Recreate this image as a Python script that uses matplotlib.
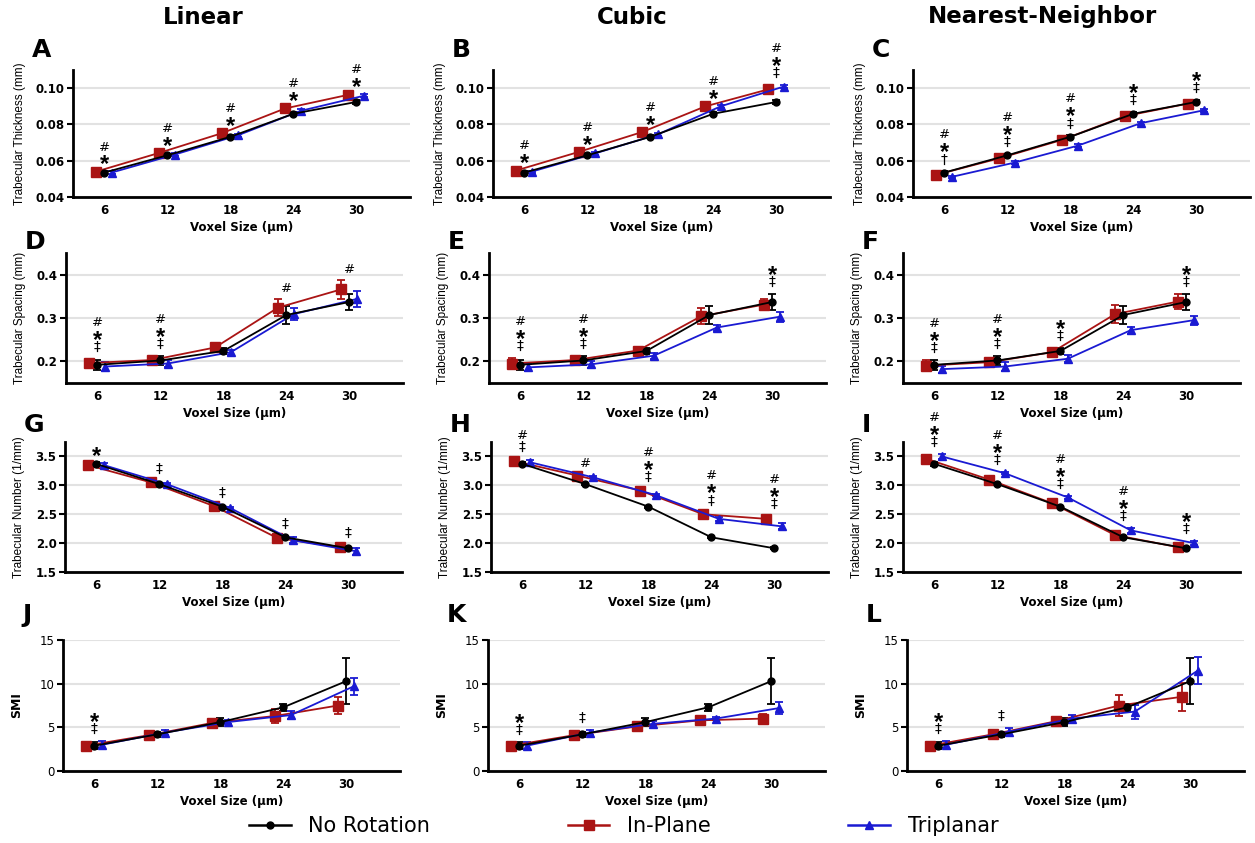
import numpy as np
import matplotlib.pyplot as plt
from matplotlib.lines import Line2D

voxel = [6, 12, 18, 24, 30]
methods = ["Linear", "Cubic", "Nearest-Neighbor"]
letters = ["A", "B", "C", "D", "E", "F", "G", "H", "I", "J", "K", "L"]
series_names = ["No Rotation", "In-Plane", "Triplanar"]

# trabecular thickness (mm); no rotation is the same for every column
th_none = [0.0535, 0.0630, 0.0732, 0.0859, 0.0924]
th_lin_ip = [0.0540, 0.0643, 0.0752, 0.0888, 0.0963]
th_lin_tri = [0.0535, 0.0634, 0.0740, 0.0875, 0.0958]
th_cub_ip = [0.0546, 0.0649, 0.0758, 0.0899, 0.0993]
th_cub_tri = [0.0540, 0.0640, 0.0745, 0.0900, 0.1009]
th_nn_ip = [0.0522, 0.0613, 0.0715, 0.0846, 0.0915]
th_nn_tri = [0.0511, 0.0590, 0.0683, 0.0807, 0.0878]
th_sd = [0.0006, 0.0006, 0.0007, 0.0008, 0.0009]

# trabecular spacing (mm)
sp_none = [0.192, 0.202, 0.224, 0.307, 0.337]
sp_none_sd = [0.012, 0.010, 0.007, 0.020, 0.018]
sp_lin_ip = [0.196, 0.203, 0.232, 0.324, 0.366]
sp_lin_ip_sd = [0.010, 0.010, 0.005, 0.020, 0.021]
sp_lin_tri = [0.188, 0.195, 0.221, 0.309, 0.344]
sp_lin_tri_sd = [0.010, 0.008, 0.006, 0.013, 0.018]
sp_cub_ip = [0.195, 0.203, 0.225, 0.304, 0.331]
sp_cub_ip_sd = [0.012, 0.010, 0.007, 0.018, 0.012]
sp_cub_tri = [0.186, 0.193, 0.213, 0.278, 0.303]
sp_cub_tri_sd = [0.008, 0.008, 0.007, 0.007, 0.012]
sp_nn_ip = [0.190, 0.198, 0.221, 0.309, 0.338]
sp_nn_ip_sd = [0.012, 0.010, 0.006, 0.020, 0.018]
sp_nn_tri = [0.182, 0.188, 0.206, 0.272, 0.295]
sp_nn_tri_sd = [0.008, 0.010, 0.008, 0.008, 0.010]

# trabecular number (1/mm)
n_none = [3.37, 3.02, 2.63, 2.10, 1.91]
n_none_sd = [0.03, 0.02, 0.02, 0.02, 0.02]
n_lin_ip = [3.35, 3.05, 2.64, 2.09, 1.93]
n_lin_ip_sd = [0.02, 0.02, 0.02, 0.03, 0.04]
n_lin_tri = [3.35, 3.02, 2.61, 2.05, 1.86]
n_lin_tri_sd = [0.04, 0.02, 0.02, 0.05, 0.06]
n_cub_ip = [3.42, 3.17, 2.91, 2.50, 2.42]
n_cub_ip_sd = [0.03, 0.02, 0.02, 0.03, 0.05]
n_cub_tri = [3.40, 3.14, 2.83, 2.42, 2.29]
n_cub_tri_sd = [0.04, 0.02, 0.02, 0.03, 0.05]
n_nn_ip = [3.46, 3.10, 2.69, 2.14, 1.93]
n_nn_ip_sd = [0.02, 0.02, 0.02, 0.02, 0.02]
n_nn_tri = [3.50, 3.21, 2.79, 2.22, 2.00]
n_nn_tri_sd = [0.04, 0.02, 0.02, 0.04, 0.04]

# structure model index
smi_none = [2.9, 4.2, 5.6, 7.3, 10.3]
smi_none_sd = [0.4, 0.3, 0.5, 0.4, 2.6]
smi_lin_ip = [2.9, 4.1, 5.5, 6.3, 7.5]
smi_lin_ip_sd = [0.4, 0.3, 0.3, 0.8, 1.0]
smi_lin_tri = [3.0, 4.4, 5.6, 6.4, 9.7]
smi_lin_tri_sd = [0.4, 0.3, 0.2, 0.5, 1.0]
smi_cub_ip = [2.9, 4.1, 5.1, 5.8, 6.0]
smi_cub_ip_sd = [0.4, 0.3, 0.3, 0.2, 0.5]
smi_cub_tri = [2.9, 4.4, 5.4, 6.0, 7.2]
smi_cub_tri_sd = [0.4, 0.3, 0.3, 0.2, 0.7]
smi_nn_ip = [2.9, 4.2, 5.7, 7.5, 8.5]
smi_nn_ip_sd = [0.4, 0.3, 0.4, 1.2, 1.6]
smi_nn_tri = [3.0, 4.5, 6.0, 6.8, 11.5]
smi_nn_tri_sd = [0.4, 0.4, 0.4, 0.8, 1.5]

# significance symbols above each voxel size, top to bottom
sig_A = ["#*", "#*", "#*", "#*", "#*"]
sig_B = ["#*", "#*", "#*", "#*", "#*‡"]
sig_C = ["#*†", "#*‡", "#*‡", "*‡", "*‡"]
sig_D = ["#*‡", "#*‡", "", "#", "#"]
sig_E = ["#*‡", "#*‡", "", "", "*‡"]
sig_F = ["#*‡", "#*‡", "*‡", "", "*‡"]
sig_G = ["*", "‡", "‡", "‡", "‡"]
sig_H = ["#‡", "#", "#*‡", "#*‡", "#*‡"]
sig_I = ["#*‡", "#*‡", "#*‡", "#*‡", "*‡"]
sig_J = ["*‡", "", "", "", ""]
sig_K = ["*‡", "‡", "", "", ""]
sig_L = ["*‡", "‡", "", "", ""]

rows = [
    dict(label="Trabecular Thickness (mm)", ylim=(0.04, 0.11), yticks=[0.04, 0.06, 0.08, 0.10], fmt="%.2f",
         none=(th_none, th_sd),
         ip=[(th_lin_ip, th_sd), (th_cub_ip, th_sd), (th_nn_ip, th_sd)],
         tri=[(th_lin_tri, th_sd), (th_cub_tri, th_sd), (th_nn_tri, th_sd)],
         sig=[sig_A, sig_B, sig_C]),
    dict(label="Trabecular Spacing (mm)", ylim=(0.15, 0.45), yticks=[0.2, 0.3, 0.4], fmt="%.1f",
         none=(sp_none, sp_none_sd),
         ip=[(sp_lin_ip, sp_lin_ip_sd), (sp_cub_ip, sp_cub_ip_sd), (sp_nn_ip, sp_nn_ip_sd)],
         tri=[(sp_lin_tri, sp_lin_tri_sd), (sp_cub_tri, sp_cub_tri_sd), (sp_nn_tri, sp_nn_tri_sd)],
         sig=[sig_D, sig_E, sig_F]),
    dict(label="Trabecular Number (1/mm)", ylim=(1.5, 3.75), yticks=[1.5, 2.0, 2.5, 3.0, 3.5], fmt="%.1f",
         none=(n_none, n_none_sd),
         ip=[(n_lin_ip, n_lin_ip_sd), (n_cub_ip, n_cub_ip_sd), (n_nn_ip, n_nn_ip_sd)],
         tri=[(n_lin_tri, n_lin_tri_sd), (n_cub_tri, n_cub_tri_sd), (n_nn_tri, n_nn_tri_sd)],
         sig=[sig_G, sig_H, sig_I]),
    dict(label="SMI", ylim=(0, 15), yticks=[0, 5, 10, 15], fmt="%d",
         none=(smi_none, smi_none_sd),
         ip=[(smi_lin_ip, smi_lin_ip_sd), (smi_cub_ip, smi_cub_ip_sd), (smi_nn_ip, smi_nn_ip_sd)],
         tri=[(smi_lin_tri, smi_lin_tri_sd), (smi_cub_tri, smi_cub_tri_sd), (smi_nn_tri, smi_nn_tri_sd)],
         sig=[sig_J, sig_K, sig_L]),
]

W, H = 1255, 843
BLACK, RED, BLUE = "black", "#aa1414", "#1a1ad2"

# pixel layout
row_tb = [(70, 197), (253, 383), (442, 572), (640, 771)]
row_lefts = [[73, 493, 913], [66, 489, 903], [65, 491, 903], [63, 488, 907]]
ax_w = 337
letter_y = [50, 242, 425, 615]
ylabel_off = [-47, -40, -40, -40]

sym_style = {
    "#": dict(size=9.5, weight="normal", family="DejaVu Sans", lift=5),
    "*": dict(size=17, weight="bold", family="Liberation Sans", lift=13),
    "‡": dict(size=10, weight="normal", family="DejaVu Sans", lift=4),
    "†": dict(size=10, weight="normal", family="DejaVu Sans", lift=4),
}


def mark(ax, x, ytop, syms):
    for k, s in enumerate(reversed(syms)):
        st = sym_style[s]
        c = 12 + 13 * k
        ax.annotate(s, (x, ytop), xytext=(0, (c - st["lift"]) * 0.72), textcoords="offset points",
                    ha="center", va="baseline", fontsize=st["size"], fontweight=st["weight"],
                    family=st["family"], color="black", annotation_clip=False)


fig = plt.figure(figsize=(W / 100, H / 100), dpi=100)

xs = np.array(voxel, dtype=float)
for r, row in enumerate(rows):
    top, bot = row_tb[r]
    for c in range(3):
        left = row_lefts[r][c]
        ax = fig.add_axes([left / W, 1 - bot / H, ax_w / W, (bot - top) / H])
        ip, ip_sd = row["ip"][c]
        tri, tri_sd = row["tri"][c]
        no, no_sd = row["none"]
        kw = dict(lw=1.3, elinewidth=1.3, capsize=3.2, capthick=1.3)
        ax.errorbar(xs - 0.8, ip, yerr=ip_sd, color=RED, marker="s", ms=6.5, **kw)
        ax.errorbar(xs + 0.7, tri, yerr=tri_sd, color=BLUE, marker="^", ms=6, **kw)
        ax.errorbar(xs, no, yerr=no_sd, color=BLACK, marker="o", ms=5, **kw)

        for i, s in enumerate(row["sig"][c]):
            if s:
                ytop = max(ip[i] + ip_sd[i], tri[i] + tri_sd[i], no[i] + no_sd[i])
                mark(ax, xs[i], ytop, s)

        ax.set_xlim(3, 35.1)
        ax.set_ylim(*row["ylim"])
        ax.set_xticks(voxel)
        ax.set_yticks(row["yticks"])
        ax.set_yticklabels([row["fmt"] % v for v in row["yticks"]])
        ax.yaxis.grid(True, color="#e2e2e2", lw=1.5)
        ax.set_axisbelow(True)
        for sp in ["top", "right"]:
            ax.spines[sp].set_visible(False)
        for sp in ["left", "bottom"]:
            ax.spines[sp].set_linewidth(2)
        ax.tick_params(axis="x", length=0, pad=5)
        ax.tick_params(axis="y", length=4, width=1.5, pad=2)
        tw = "normal" if r == 3 else "bold"
        for t in ax.get_xticklabels():
            t.set_fontweight("bold")
            t.set_fontsize(8.5)
            t.set_family("DejaVu Sans")
        for t in ax.get_yticklabels():
            t.set_fontweight(tw)
            t.set_fontsize(8.5)
            t.set_family("DejaVu Sans")
        ax.set_xlabel("Voxel Size (μm)", fontsize=8.5, fontweight="bold", family="DejaVu Sans", labelpad=3)
        if r == 3:
            ax.set_ylabel(row["label"], fontsize=9, fontweight="bold", family="DejaVu Sans")
        else:
            ax.set_ylabel(row["label"], fontsize=8.5, family="Liberation Sans")
        ax.yaxis.set_label_coords(ylabel_off[r] / ax_w, 0.5)

        fig.text((left - 41) / W, 1 - letter_y[r] / H, letters[r * 3 + c], fontsize=18,
                 fontweight="bold", family="DejaVu Sans", va="center", ha="left")

title_x = [203, 632, 1042]
for m, tx in zip(methods, title_x):
    fig.text(tx / W, 1 - 17 / H, m, fontsize=16.5, fontweight="bold", family="DejaVu Sans",
             ha="center", va="center")

handles = [
    Line2D([], [], color=BLACK, marker="o", ms=5, lw=1.8),
    Line2D([], [], color=RED, marker="s", ms=6.5, lw=1.8),
    Line2D([], [], color=BLUE, marker="^", ms=6, lw=1.8),
]
fig.legend(handles, series_names, loc="center", bbox_to_anchor=(0.497, 1 - 826 / H), ncol=3,
           frameon=False, prop=dict(family="DejaVu Sans", size=15),
           handlelength=2.0, handletextpad=0.85, columnspacing=6.6)

fig.savefig("out.png", dpi=100)
